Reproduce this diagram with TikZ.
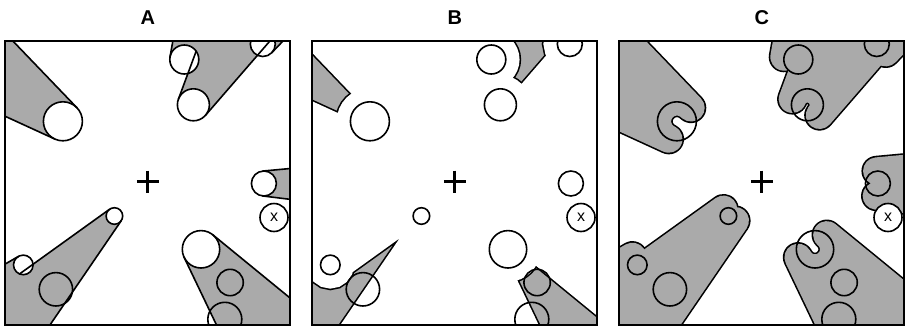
\documentclass[tikz,border=0pt]{standalone}
\usepackage{fontspec}
\setmainfont{Liberation Sans}

\definecolor{shadowgray}{RGB}{170,170,170}

% viewpoint (the cross) in panel coordinates: px from the frame's top-left, y down
\def\vpx{142.6}
\def\vpy{140.4}
\def\farlen{450}
% offset distance 14.5, outline 1.6: widths of the wide strokes
\def\outerw{30.6}
\def\innerw{27.4}

% circle table
\newcommand\defcirc[4]{%
  \expandafter\def\csname cirx@#1\endcsname{#2}%
  \expandafter\def\csname ciry@#1\endcsname{#3}%
  \expandafter\def\csname cirr@#1\endcsname{#4}}
\newcommand\circx[1]{\csname cirx@#1\endcsname}
\newcommand\circy[1]{\csname ciry@#1\endcsname}
\newcommand\circr[1]{\csname cirr@#1\endcsname}

\defcirc{k1}{57.6}{80.0}{19.5}
\defcirc{k2}{179.0}{18.2}{14.5}
\defcirc{k3}{188.1}{63.5}{16}
\defcirc{k4}{257.5}{2.7}{12.5}
\defcirc{k5}{258.6}{142.2}{12.5}
\defcirc{k6}{268.7}{176.2}{14}
\defcirc{k7}{195.7}{208.0}{18.7}
\defcirc{k8}{224.8}{241.2}{13.2}
\defcirc{k9}{219.5}{278.0}{17}
\defcirc{k10}{109.1}{174.7}{8.3}
\defcirc{k11}{18.0}{223.6}{9.8}
\defcirc{k12}{50.6}{248.0}{16.7}

% centre of a circle in the current panel
\newcommand\placecirc[1]{%
  \pgfmathsetmacro\gX{\panelx+\circx{#1}}%
  \pgfmathsetmacro\gY{\panely+\circy{#1}}%
  \coordinate (#1) at (\gX,\gY);}

% tangent points seen from the viewpoint, far ends of both rays, back-arc angles
\newcommand\occgeom[1]{%
  \placecirc{#1}%
  \pgfmathsetmacro\oDx{\circx{#1}-\vpx}%
  \pgfmathsetmacro\oDy{\circy{#1}-\vpy}%
  \pgfmathsetmacro\oD{10*sqrt((\oDx/10)^2+(\oDy/10)^2)}%
  \pgfmathsetmacro\oTh{atan2(\oDy,\oDx)}%
  \pgfmathsetmacro\oAl{asin(\circr{#1}/\oD)}%
  \pgfmathsetmacro\oL{\oD*cos(\oAl)}%
  \pgfmathsetmacro\oAa{\oTh+\oAl}%
  \pgfmathsetmacro\oAb{\oTh-\oAl}%
  \expandafter\xdef\csname ray@#1a\endcsname{\oAa}%
  \expandafter\xdef\csname ray@#1b\endcsname{\oAb}%
  \pgfmathsetmacro\oS{\oAb-90}\expandafter\xdef\csname arcs@#1\endcsname{\oS}%
  \pgfmathsetmacro\oE{\oAa+90}\expandafter\xdef\csname arce@#1\endcsname{\oE}%
  \pgfmathsetmacro\pX{\panelx+\vpx}\pgfmathsetmacro\pY{\panely+\vpy}%
  \coordinate (#1-a) at ({\pX+\oL*cos(\oAa)},{\pY+\oL*sin(\oAa)});%
  \coordinate (#1-b) at ({\pX+\oL*cos(\oAb)},{\pY+\oL*sin(\oAb)});%
  \coordinate (#1-fa) at ({\pX+\farlen*cos(\oAa)},{\pY+\farlen*sin(\oAa)});%
  \coordinate (#1-fb) at ({\pX+\farlen*cos(\oAb)},{\pY+\farlen*sin(\oAb)});}

% point where a ray from the viewpoint leaves a circle
\newcommand\rayexit[3]{%
  \pgfmathsetmacro\rUx{cos(#2)}\pgfmathsetmacro\rUy{sin(#2)}%
  \pgfmathsetmacro\rVx{\circx{#3}-\vpx}\pgfmathsetmacro\rVy{\circy{#3}-\vpy}%
  \pgfmathsetmacro\rPj{\rUx*\rVx+\rUy*\rVy}%
  \pgfmathsetmacro\rPp{\rUx*\rVy-\rUy*\rVx}%
  \pgfmathsetmacro\rT{\rPj+sqrt(\circr{#3}*\circr{#3}-\rPp*\rPp)}%
  \coordinate (#1) at ({\panelx+\vpx+\rT*\rUx},{\panely+\vpy+\rT*\rUy});}

\newcommand\setpanel[1]{%
  \def\panelx{#1}\def\panely{41.3}%
  \occgeom{k1}\occgeom{k2}\occgeom{k3}\occgeom{k4}%
  \occgeom{k5}\occgeom{k7}\occgeom{k10}\occgeom{k11}%
  \placecirc{k6}\placecirc{k8}\placecirc{k9}\placecirc{k12}%
  \rayexit{k3-x}{\csname ray@k3b\endcsname}{k2}%
  \rayexit{k10-x}{\csname ray@k10a\endcsname}{k11}%
  \coordinate (vp) at (\panelx+\vpx,\panely+\vpy);}

% region hidden behind one circle
\newcommand\shadowpath[1]{(#1-fa) -- (#1-fb) -- (#1-b)
  arc[start angle=\csname arcs@#1\endcsname, end angle=\csname arce@#1\endcsname, radius=\circr{#1}] -- cycle}
\newcommand\allshadows{\shadowpath{k1} \shadowpath{k2} \shadowpath{k3} \shadowpath{k4}
  \shadowpath{k5} \shadowpath{k7} \shadowpath{k10} \shadowpath{k11}}
% rays that bound the union of the hidden regions
\newcommand\boundaryrays{(k1-a) -- (k1-fa) (k1-b) -- (k1-fb)
  (k2-b) -- (k2-fb)
  (k3-a) -- (k3-fa) (k3-b) -- (k3-x)
  (k4-a) -- (k4-fa)
  (k5-a) -- (k5-fa) (k5-b) -- (k5-fb)
  (k7-a) -- (k7-fa) (k7-b) -- (k7-fb)
  (k10-b) -- (k10-fb) (k10-a) -- (k10-x)
  (k11-a) -- (k11-fa)}
\newcommand\circpath[1]{(#1) circle[radius=\circr{#1}]}
\newcommand\occdisks{\circpath{k1} \circpath{k2} \circpath{k3} \circpath{k4}
  \circpath{k5} \circpath{k7} \circpath{k10} \circpath{k11}}
\newcommand\allcircles{\occdisks \circpath{k6} \circpath{k8} \circpath{k9} \circpath{k12}}
\newcommand\framepath{(\panelx,\panely) rectangle ++(285,284)}

\tikzset{
  rayline/.style={line width=1.6pt, line cap=round},
  circline/.style={line width=1.6pt},
  framebox/.style={line width=2pt},
  plusmark/.style={line width=3pt},
  panellabel/.style={font=\fontsize{20}{20}\selectfont\bfseries, inner sep=0pt},
  xmarkfont/.style={font=\fontsize{16}{16}\selectfont, inner sep=0pt},
}

\begin{document}
\begin{tikzpicture}[x=1pt, y=1pt, yscale=-1]
\useasboundingbox (0,0) rectangle (905,327);

% ---------- A: hidden regions ----------
\setpanel{5.3}
\begin{scope}
  \clip \framepath;
  \fill[shadowgray] \allshadows;
  \fill[white] \occdisks \circpath{k6};
  \draw[rayline] \boundaryrays;
  \draw[circline] \allcircles;
\end{scope}
\node[xmarkfont] (xA) at (k6) {x};
\draw[plusmark] (vp) ++(-11,0) -- ++(22,0) (vp) ++(0,-11) -- ++(0,22);
\draw[framebox] \framepath;
\node[panellabel] (labelA) at (147.8,18) {A};

% ---------- B: shrunk regions ----------
\setpanel{312.3}
\begin{scope}
  \clip \framepath;
  \fill[shadowgray] \allshadows;
  \begin{scope}
    \clip \allshadows;
    \draw[black, line width=\outerw pt, line cap=round] \boundaryrays \occdisks;
    \fill[black] \occdisks;
  \end{scope}
  \draw[white, line width=\innerw pt, line cap=round] \boundaryrays \occdisks;
  \fill[white] \occdisks;
  \draw[circline] \allcircles;
\end{scope}
\node[xmarkfont] (xB) at (k6) {x};
\draw[plusmark] (vp) ++(-11,0) -- ++(22,0) (vp) ++(0,-11) -- ++(0,22);
\draw[framebox] \framepath;
\node[panellabel] (labelB) at (454.8,18) {B};

% ---------- C: grown regions ----------
\setpanel{619.3}
\begin{scope}
  \clip \framepath;
  \filldraw[black, line width=\outerw pt, line join=round] \allshadows;
  \filldraw[shadowgray, line width=\innerw pt, line join=round] \allshadows;
  \fill[white] \circpath{k6};
  \draw[circline] \allcircles;
\end{scope}
\node[xmarkfont] (xC) at (k6) {x};
\draw[plusmark] (vp) ++(-11,0) -- ++(22,0) (vp) ++(0,-11) -- ++(0,22);
\draw[framebox] \framepath;
\node[panellabel] (labelC) at (761.8,18) {C};
\end{tikzpicture}
\end{document}
